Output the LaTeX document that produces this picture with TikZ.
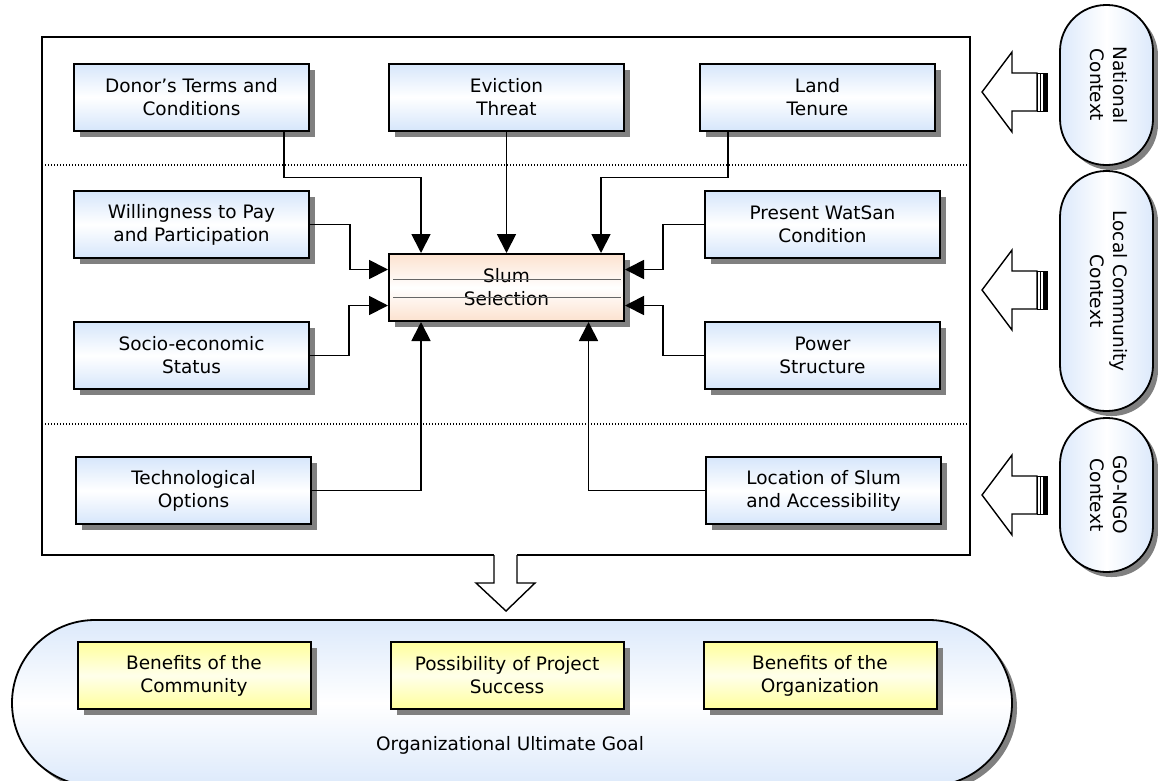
\documentclass[tikz,border=0pt]{standalone}
\usepackage{fontspec}
\setmainfont{DejaVu Sans}
\usepackage{xcolor}
\usepackage{tikz}
\usetikzlibrary{shapes.geometric, arrows.meta, positioning, shadows}
\definecolor{boxblue}{HTML}{D6E6FB}
\definecolor{hubpeach}{HTML}{FCE2CF}
\definecolor{goalyellow}{HTML}{FFFF9C}
\definecolor{bandblue}{HTML}{DCE9FB}
\definecolor{shadowgray}{HTML}{808080}
\tikzset{
    factor/.style={rectangle, draw, line width=2pt, top color=boxblue, bottom color=boxblue, middle color=white, minimum width=235pt, minimum height=67pt, align=center, drop shadow={shadow xshift=6pt, shadow yshift=-6pt, fill=shadowgray, opacity=1}},
    hub/.style={factor, top color=hubpeach, bottom color=hubpeach, middle color=white},
    benefit/.style={factor, top color=goalyellow, bottom color=goalyellow, middle color=yellow!8, minimum width=233pt},
    context/.style={rectangle, draw, line width=1.8pt, rounded corners=46pt, left color=bandblue, right color=bandblue, middle color=white, minimum width=93pt, drop shadow={shadow xshift=5pt, shadow yshift=-5pt, fill=shadowgray, opacity=1}},
    band/.style={rectangle, draw, line width=1.8pt, rounded corners=83pt, top color=bandblue, bottom color=bandblue, middle color=white, minimum width=1000pt, minimum height=166pt, drop shadow={shadow xshift=5pt, shadow yshift=-5pt, fill=shadowgray, opacity=1}},
    blockarrow/.style={draw, line width=1.4pt, fill=white},
    layer/.style={line width=1.3pt, dash pattern=on 1.2pt off 1.8pt},
    arrow/.style={-{Triangle[length=19pt, width=19pt]}, line width=1.8pt}
}

\begin{document}
\begin{tikzpicture}[x=1pt, y=-1pt, every node/.style={font=\fontsize{18.5}{23}\selectfont}]
    \useasboundingbox (0,0) rectangle (1158,780);
    \clip (0,0) rectangle (1158,780);

    % frame and layers
    \draw[line width=1.6pt] (494,555) -- (42,555) -- (42,37) -- (970,37) -- (970,555) -- (517,555);
    \draw[layer] (42,165) -- (970,165);
    \draw[layer] (42,424) -- (970,424);

    % factors
    \node (donor) [factor] at (191.5,97) {Donor’s Terms and\\Conditions};
    \node (eviction) [factor] at (506.5,97) {Eviction\\Threat};
    \node (land) [factor] at (817.5,97) {Land\\Tenure};
    \node (willing) [factor] at (191.5,224.5) {Willingness to Pay\\and Participation};
    \node (watsan) [factor] at (822.5,224.5) {Present WatSan\\Condition};
    \node (slum) [hub] at (506.5,287.5) {Slum\\Selection};
    \draw[black!60, line width=1pt] ([shift={(5pt,8.5pt)}]slum.west) -- ([shift={(-4pt,8.5pt)}]slum.east);
    \draw[black!60, line width=1pt] ([shift={(5pt,-9.5pt)}]slum.west) -- ([shift={(-4pt,-9.5pt)}]slum.east);
    \node (socio) [factor] at (191.5,355.5) {Socio-economic\\Status};
    \node (power) [factor] at (822.5,355.5) {Power\\Structure};
    \node (techno) [factor] at (193.5,490.5) {Technological\\Options};
    \node (location) [factor] at (823.5,490.5) {Location of Slum\\and Accessibility};

    \draw[arrow] ([xshift=92.5pt]donor.south) -- ++(0,46) -| ([xshift=-85.5pt]slum.north);
    \draw[arrow] (eviction.south) -- (slum.north);
    \draw[arrow] ([xshift=-89.5pt]land.south) -- ++(0,46) -| ([xshift=94.5pt]slum.north);
    \draw[arrow] (willing.east) -- ++(40,0) |- ([yshift=18pt]slum.west);
    \draw[arrow] (socio.east) -- ++(39,0) |- ([yshift=-18pt]slum.west);
    \draw[arrow] (watsan.west) -- ++(-41,0) |- ([yshift=18pt]slum.east);
    \draw[arrow] (power.west) -- ++(-41,0) |- ([yshift=-18pt]slum.east);
    \draw[arrow] (techno.east) -| ([xshift=-85.5pt]slum.south);
    \draw[arrow] (location.west) -| ([xshift=82pt]slum.south);

    % contexts
    \node (national) [context, minimum height=160pt] at (1106.5,85) {\rotatebox{-90}{\begin{tabular}{@{}c@{}}National\\Context\end{tabular}}};
    \node (local) [context, minimum height=240pt] at (1106.5,291) {\rotatebox{-90}{\begin{tabular}{@{}c@{}}Local Community\\Context\end{tabular}}};
    \node (gongo) [context, minimum height=154pt] at (1106.5,495) {\rotatebox{-90}{\begin{tabular}{@{}c@{}}GO-NGO\\Context\end{tabular}}};
    \foreach \cy in {92,290,495} {
        \draw[blockarrow] (982,\cy) -- (1012,\cy-40) -- (1012,\cy-19) -- (1037,\cy-19) -- (1037,\cy+19) -- (1012,\cy+19) -- (1012,\cy+40) -- cycle;
        \draw[line width=1pt] (1037,\cy-19) rectangle (1047,\cy+19);
        \draw[line width=1pt] (1040,\cy-19) -- (1040,\cy+19);
        \fill (1043,\cy-19) rectangle (1047,\cy+19);
    }

    % goal
    \draw[blockarrow] (494,555) -- (494,583) -- (476,583) -- (506,611) -- (535,583) -- (517,583) -- (517,555);
    \node (goal) [band] at (512,703) {};
    \node (community) [benefit] at (194,675.5) {Benefits of the\\Community};
    \node (success) [benefit, right=78pt of community] {Possibility of Project\\Success};
    \node (organization) [benefit, right=78pt of success] {Benefits of the\\Organization};
    \node (goaltext) at (510,745) {Organizational Ultimate Goal};
\end{tikzpicture}
\end{document}
